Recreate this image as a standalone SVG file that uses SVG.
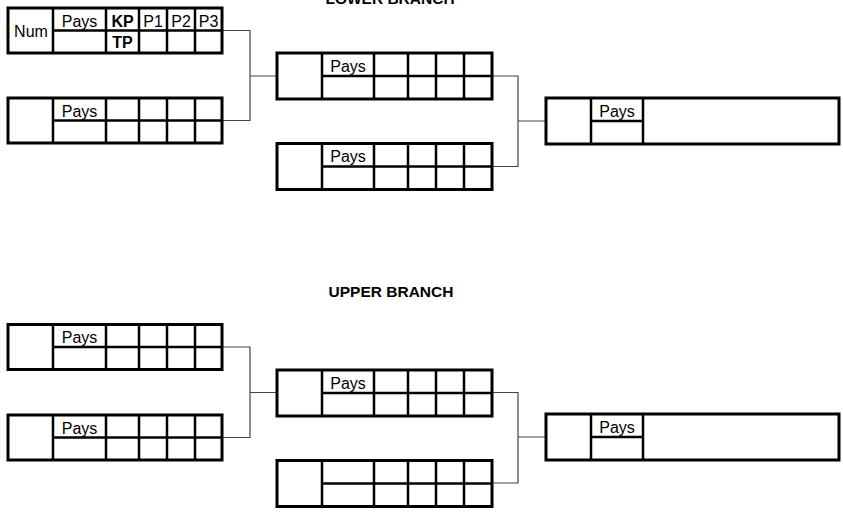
<svg xmlns="http://www.w3.org/2000/svg" xmlns:xlink="http://www.w3.org/1999/xlink" width="843" height="517" viewBox="0 0 843 517">
<style>
.frame{fill:#fff;stroke:#000;stroke-width:3}
.div{stroke:#000;stroke-width:2.5;fill:none}
.conn{stroke:#444;stroke-width:1.2;fill:none}
.t{font-family:"Liberation Sans",Arial,sans-serif;font-size:16px;fill:#000;text-anchor:middle}
.b{font-weight:bold}
.title{font-family:"Liberation Sans",Arial,sans-serif;font-size:15.5px;font-weight:bold;fill:#000;text-anchor:middle}
</style>
<defs>
<g id="boxA">
<rect class="frame" x="0" y="0" width="214" height="45"/>
<path class="div" d="M45,0V45M98,0V45M131,0V45M159,0V45M187,0V45M45,22.5H214"/>
</g>
<g id="boxB">
<rect class="frame" x="0" y="0" width="215" height="46"/>
<path class="div" d="M45,0V46M97,0V46M131,0V46M159,0V46M187,0V46M45,23H215"/>
</g>
<g id="boxC">
<rect class="frame" x="0" y="0" width="293" height="46"/>
<path class="div" d="M45,0V46M97,0V46M45,23H97"/>
</g>
</defs>
<rect width="843" height="517" fill="#fff"/>
<text class="title" x="390" y="4">LOWER BRANCH</text>
<text class="title" x="391" y="296.5">UPPER BRANCH</text>
<g id="connectors">
<path class="conn" d="M222,30.5H250V120.5H222M250,76H277"/>
<path class="conn" d="M492,76H518V166.5H492M518,121H546"/>
<path class="conn" d="M222,347H250V437.5H222M250,392.5H277"/>
<path class="conn" d="M492,392.5H518V483H492M518,437H546"/>
</g>
<g id="lower-r1-a" transform="translate(8,8)">
<use xlink:href="#boxA"/>
<text class="t" x="23" y="28.5">Num</text>
<text class="t" x="71.5" y="18.5">Pays</text>
<text class="t b" x="114.5" y="18.5">KP</text>
<text class="t b" x="114.5" y="40">TP</text>
<text class="t" x="145" y="18.5">P1</text>
<text class="t" x="173" y="18.5">P2</text>
<text class="t" x="200.5" y="18.5">P3</text>
</g>
<g id="lower-r1-b" transform="translate(8,98)">
<use xlink:href="#boxA"/>
<text class="t" x="71.5" y="18.5">Pays</text>
</g>
<g id="lower-r2-a" transform="translate(277,53)">
<use xlink:href="#boxB"/>
<text class="t" x="71" y="18.5">Pays</text>
</g>
<g id="lower-r2-b" transform="translate(277,143.5)">
<use xlink:href="#boxB"/>
<text class="t" x="71" y="18.5">Pays</text>
</g>
<g id="lower-final" transform="translate(546,98)">
<use xlink:href="#boxC"/>
<text class="t" x="71" y="18.5">Pays</text>
</g>
<g id="upper-r1-a" transform="translate(8,324.5)">
<use xlink:href="#boxA"/>
<text class="t" x="71.5" y="18.5">Pays</text>
</g>
<g id="upper-r1-b" transform="translate(8,415)">
<use xlink:href="#boxA"/>
<text class="t" x="71.5" y="18.5">Pays</text>
</g>
<g id="upper-r2-a" transform="translate(277,370)">
<use xlink:href="#boxB"/>
<text class="t" x="71" y="18.5">Pays</text>
</g>
<g id="upper-r2-b" transform="translate(277,460.5)">
<use xlink:href="#boxB"/>
</g>
<g id="upper-final" transform="translate(546,414)">
<use xlink:href="#boxC"/>
<text class="t" x="71" y="18.5">Pays</text>
</g>
</svg>
